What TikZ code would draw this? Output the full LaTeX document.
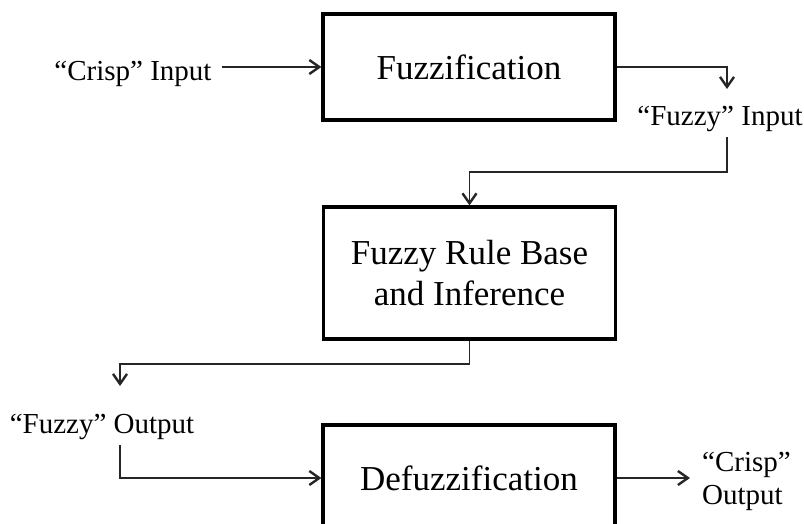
\documentclass[tikz,border=0pt]{standalone}
\usepackage{fontspec}
\setmainfont{Liberation Serif}
\usetikzlibrary{arrows.meta}
\begin{document}
\begin{tikzpicture}[x=1pt,y=-1pt,
  blk/.style={draw=black, line width=3.2pt, minimum width=292pt, minimum height=106pt,
    align=center, inner sep=0pt, font=\fontsize{35}{41}\selectfont},
  lbl/.style={inner sep=0pt, font=\fontsize{29}{33}\selectfont},
  conn/.style={draw=black!85, line width=1.8pt,
    -{Straight Barb[length=10pt,width=14pt,line width=2.4pt]}}]
\useasboundingbox (0,0) rectangle (804,523);
\clip (0,0) rectangle (804,523);
% boxes
\node[blk] (F) at (469,67) {Fuzzification};
\node[blk, minimum height=132pt] (R) at (469.5,273) {Fuzzy Rule Base\\and Inference};
\node[blk] (D) at (469,478) {Defuzzification};
% labels
\node[lbl, anchor=base] (cin) at (133,80) {“Crisp” Input};
\node[lbl, anchor=base] (fin) at (720,125) {“Fuzzy” Input};
\node[lbl, anchor=base] (fout) at (102,433) {“Fuzzy” Output};
\node[lbl, anchor=west, align=left] (cout) at (702,481) {“Crisp”\\Output};
% free ends
\coordinate (t1) at (727,89);
\coordinate (s1) at (727,137);
\coordinate (t2) at (120,386);
\coordinate (s2) at (120,445);
% connectors
\draw[conn] ([xshift=10pt]F.west -| cin.east) -- (F.west);
\draw[conn] (F.east) -| (t1);
\draw[conn] (s1) -- ++(0,35) -| (R.north);
\draw[conn] (R.south) -- ++(0,23) -| (t2);
\draw[conn] (s2) |- (D.west);
\draw[conn] (D.east) -- ([xshift=-12pt]D.east -| cout.west);
\end{tikzpicture}
\end{document}
